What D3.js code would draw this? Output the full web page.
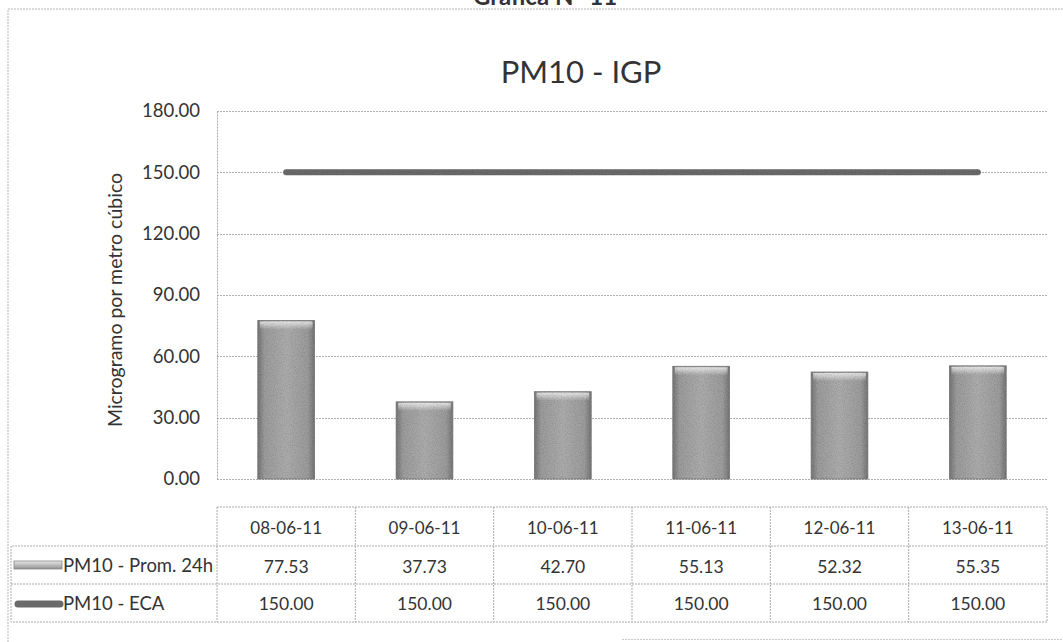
<!DOCTYPE html>
<html>
<head>
<meta charset="utf-8">
<script src="https://cdn.jsdelivr.net/npm/d3@7"></script>
<style>
  html, body { margin: 0; padding: 0; background: #fff; }
  svg { display: block; }
  text { font-family: Lato, "Open Sans", "DejaVu Sans", sans-serif; fill: #333; }
</style>
</head>
<body>
<svg id="chart" width="1063" height="642"></svg>
<script>
// Daily PM10 averages (24h) and the ECA standard
const categories = ["08-06-11", "09-06-11", "10-06-11", "11-06-11", "12-06-11", "13-06-11"];
const prom24h = [77.53, 37.73, 42.70, 55.13, 52.32, 55.35];
const eca = [150, 150, 150, 150, 150, 150];
const yTicks = [0, 30, 60, 90, 120, 150, 180];
const seriesNames = ["PM10 - Prom. 24h", "PM10 - ECA"];

const svg = d3.select("#chart");
const W = 1063, H = 642;
const plot = { left: 217, right: 1047, top: 111, bottom: 479 };

const x = d3.scaleBand().domain(categories).range([plot.left, plot.right])
  .paddingInner(0.59).paddingOuter(0.295);
const xCol = d3.scaleBand().domain(categories).range([plot.left, plot.right]);
const y = d3.scaleLinear().domain([0, 180]).range([plot.bottom, plot.top]);

// Defs: bar gradient + grain
const defs = svg.append("defs");
const g1 = defs.append("linearGradient").attr("id", "barGrad").attr("x1", 0).attr("x2", 1).attr("y1", 0).attr("y2", 0);
[[0, "#767676"], [0.12, "#9c9c9c"], [0.5, "#acacac"], [0.88, "#9c9c9c"], [1, "#767676"]]
  .forEach(([o, c]) => g1.append("stop").attr("offset", o).attr("stop-color", c));
const g2 = defs.append("linearGradient").attr("id", "barTop").attr("x1", 0).attr("x2", 0).attr("y1", 0).attr("y2", 1);
g2.append("stop").attr("offset", 0).attr("stop-color", "#fff").attr("stop-opacity", 0.75);
g2.append("stop").attr("offset", 1).attr("stop-color", "#fff").attr("stop-opacity", 0);
const keyGrad = defs.append("linearGradient").attr("id", "keyGrad").attr("x1", 0).attr("x2", 0).attr("y1", 0).attr("y2", 1);
[[0, "#e8e8e8"], [0.5, "#bdbdbd"], [1, "#8f8f8f"]]
  .forEach(([o, c]) => keyGrad.append("stop").attr("offset", o).attr("stop-color", c));
const grain = defs.append("filter").attr("id", "grain").attr("filterUnits", "userSpaceOnUse")
  .attr("x", 0).attr("y", 0).attr("width", W).attr("height", H);
grain.append("feTurbulence").attr("type", "fractalNoise").attr("baseFrequency", 0.9).attr("numOctaves", 2).attr("seed", 3).attr("result", "noise");
grain.append("feColorMatrix").attr("in", "noise").attr("type", "matrix")
  .attr("values", "0 0 0 0 0  0 0 0 0 0  0 0 0 0 0  0 0 0 -1.6 1.0").attr("result", "dots");
grain.append("feComposite").attr("in", "dots").attr("in2", "SourceGraphic").attr("operator", "in").attr("result", "dotsIn");
grain.append("feComponentTransfer").attr("in", "dotsIn").attr("result", "dotsSoft")
  .append("feFuncA").attr("type", "linear").attr("slope", 0.35);
const merge = grain.append("feMerge");
merge.append("feMergeNode").attr("in", "SourceGraphic");
merge.append("feMergeNode").attr("in", "dotsSoft");

// Page heading (partly cut at the top) and chart frame
svg.append("text").attr("x", 545).attr("y", 5).attr("text-anchor", "middle")
  .attr("font-size", 24).attr("font-weight", "bold").attr("fill", "#222").text("Gráfica N° 11");
svg.append("path").attr("d", `M8,642 V9 H1063`).attr("fill", "none")
  .attr("stroke", "#b5b5b5").attr("stroke-width", 1).attr("stroke-dasharray", "2,1");
svg.append("line").attr("x1", 622).attr("x2", 1063).attr("y1", 639.5).attr("y2", 639.5)
  .attr("stroke", "#c8c8c8").attr("stroke-dasharray", "2,1");

// Title
svg.append("text").attr("x", 581).attr("y", 83).attr("text-anchor", "middle")
  .attr("font-size", 31).attr("fill", "#2a2a2a").text("PM10 - IGP");

// Gridlines
svg.append("g").selectAll("line").data(yTicks).join("line")
  .attr("x1", plot.left).attr("x2", plot.right)
  .attr("y1", d => Math.round(y(d)) + 0.5).attr("y2", d => Math.round(y(d)) + 0.5)
  .attr("stroke", "#b0b0b0").attr("stroke-width", 1).attr("stroke-dasharray", "2,1");

// Y axis
const yAxis = svg.append("g").attr("transform", `translate(${plot.left},0)`)
  .call(d3.axisLeft(y).tickValues(yTicks).tickFormat(d3.format(".2f")).tickSize(0).tickPadding(17));
yAxis.select(".domain").attr("stroke", "#aaa").attr("stroke-dasharray", "2,1");
yAxis.selectAll("text").attr("font-size", 18.5).attr("fill", "#333")
  .style("font-family", "Lato, 'Open Sans', sans-serif");

svg.append("text").attr("transform", `translate(122,${(plot.top + plot.bottom) / 2 + 5}) rotate(-90)`)
  .attr("text-anchor", "middle").attr("font-size", 19.5).attr("fill", "#333")
  .text("Microgramo por metro cúbico");

// Bars
const bars = svg.append("g").attr("filter", "url(#grain)");
bars.selectAll("rect.bar").data(prom24h).join("rect").attr("class", "bar")
  .attr("x", (d, i) => x(categories[i])).attr("width", x.bandwidth())
  .attr("y", d => y(d)).attr("height", d => y(0) - y(d))
  .attr("fill", "url(#barGrad)").attr("stroke", "#777").attr("stroke-width", 0.8);
bars.selectAll("rect.hl").data(prom24h).join("rect").attr("class", "hl")
  .attr("x", (d, i) => x(categories[i]) + 2).attr("width", x.bandwidth() - 4)
  .attr("y", d => y(d) + 1).attr("height", 8).attr("fill", "url(#barTop)");

// ECA standard line
const line = d3.line().x((d, i) => xCol(categories[i]) + xCol.bandwidth() / 2).y(d => y(d));
svg.append("path").datum(eca).attr("d", line).attr("fill", "none")
  .attr("stroke", "#6a6a6a").attr("stroke-width", 6).attr("stroke-linecap", "round")
  .attr("filter", "url(#grain)");

// Data table
const rows = { top: 507, r1: 546, r2: 584, bottom: 622 };
const tableLeft = 11;
const tbl = svg.append("g").attr("stroke", "#aaa").attr("stroke-width", 1).attr("stroke-dasharray", "2,1").attr("fill", "none");
tbl.append("path").attr("d",
  `M${plot.left},${rows.top} H${plot.right} V${rows.bottom} H${tableLeft} V${rows.r1} H${plot.right}` +
  ` M${tableLeft},${rows.r2} H${plot.right} M${plot.left},${rows.top} V${rows.bottom}`);
tbl.selectAll("line").data(categories.slice(1)).join("line")
  .attr("x1", d => xCol(d)).attr("x2", d => xCol(d)).attr("y1", rows.top).attr("y2", rows.bottom);

const cx = d => xCol(d) + xCol.bandwidth() / 2;
svg.append("g").selectAll("text").data(categories).join("text")
  .attr("x", cx).attr("y", (rows.top + rows.r1) / 2 + 7).attr("text-anchor", "middle")
  .attr("font-size", 17).text(d => d);
svg.append("g").selectAll("text").data(prom24h).join("text")
  .attr("x", (d, i) => cx(categories[i])).attr("y", (rows.r1 + rows.r2) / 2 + 8).attr("text-anchor", "middle")
  .attr("font-size", 17.5).text(d => d3.format(".2f")(d));
svg.append("g").selectAll("text").data(eca).join("text")
  .attr("x", (d, i) => cx(categories[i])).attr("y", (rows.r2 + rows.bottom) / 2 + 7).attr("text-anchor", "middle")
  .attr("font-size", 17.5).text(d => d3.format(".2f")(d));

// Legend keys inside the table
svg.append("rect").attr("x", 14).attr("y", (rows.r1 + rows.r2) / 2 - 4).attr("width", 48).attr("height", 8)
  .attr("fill", "url(#keyGrad)").attr("stroke", "#888").attr("stroke-width", 0.8);
svg.append("line").attr("x1", 18).attr("x2", 60)
  .attr("y1", (rows.r2 + rows.bottom) / 2 + 1).attr("y2", (rows.r2 + rows.bottom) / 2 + 1)
  .attr("stroke", "#6a6a6a").attr("stroke-width", 7).attr("stroke-linecap", "round");
svg.append("g").selectAll("text").data(seriesNames).join("text")
  .attr("x", 63).attr("y", (d, i) => i === 0 ? (rows.r1 + rows.r2) / 2 + 7 : (rows.r2 + rows.bottom) / 2 + 7)
  .attr("font-size", 18.5).text(d => d);
</script>
</body>
</html>
